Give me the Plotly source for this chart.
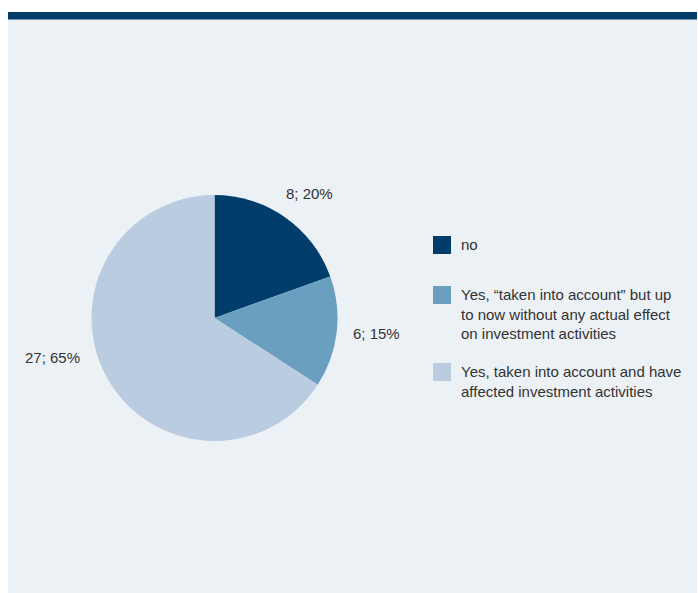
import plotly.graph_objects as go

categories = ["no",
              "Yes, “taken into account” but up<br>to now without any actual effect<br>on investment activities",
              "Yes, taken into account and have<br>affected investment activities"]
counts = [8, 6, 27]
percent_labels = ["20%", "15%", "65%"]
colors = ["#003D6B", "#6A9FBF", "#BACDE0"]

W, H = 698, 593
cx, cy, r = 214.5, 318, 123
FONT = dict(family="Liberation Sans, Arial, sans-serif", size=15, color="#333333")

fig = go.Figure()
fig.add_trace(go.Pie(
    labels=[c.replace("<br>", " ") for c in categories],
    values=counts,
    sort=False,
    direction="clockwise",
    rotation=0,
    textinfo="none",
    hoverinfo="label+value",
    marker=dict(colors=colors, line=dict(width=0)),
    domain=dict(x=[(cx - r) / W, (cx + r) / W], y=[1 - (cy + r) / H, 1 - (cy - r) / H]),
    showlegend=False,
))

shapes = [
    dict(type="rect", xref="paper", yref="paper", x0=8 / W, x1=697 / W, y0=0, y1=1 - 12 / H,
         fillcolor="#ECF1F6", line=dict(width=0), layer="below"),
    dict(type="rect", xref="paper", yref="paper", x0=8 / W, x1=697 / W, y0=1 - 19.5 / H, y1=1 - 12 / H,
         fillcolor="#003D6B", line=dict(width=0), layer="below"),
]

annotations = []
# slice labels
label_pos = [(309.5, 193, "center"), (376, 333, "center"), (52.5, 357, "center")]
for (x, y, anc), n, p in zip(label_pos, counts, percent_labels):
    annotations.append(dict(x=x / W, y=1 - y / H, xref="paper", yref="paper",
                            text=f"{n}; {p}", showarrow=False, xanchor=anc, yanchor="middle",
                            font=FONT))

# legend
legend_tops = [236, 286, 363]
for top, cat, col in zip(legend_tops, categories, colors):
    shapes.append(dict(type="rect", xref="paper", yref="paper",
                       x0=433 / W, x1=451 / W, y0=1 - (top + 18) / H, y1=1 - top / H,
                       fillcolor=col, line=dict(width=0)))
    annotations.append(dict(x=459 / W, y=1 - (top - 2) / H, xref="paper", yref="paper",
                            text=cat, showarrow=False, xanchor="left", yanchor="top", align="left",
                            font=FONT))

fig.update_layout(
    width=W, height=H,
    margin=dict(l=0, r=0, t=0, b=0),
    paper_bgcolor="white",
    plot_bgcolor="white",
    shapes=shapes,
    annotations=annotations,
)

fig.write_html("out.html")
